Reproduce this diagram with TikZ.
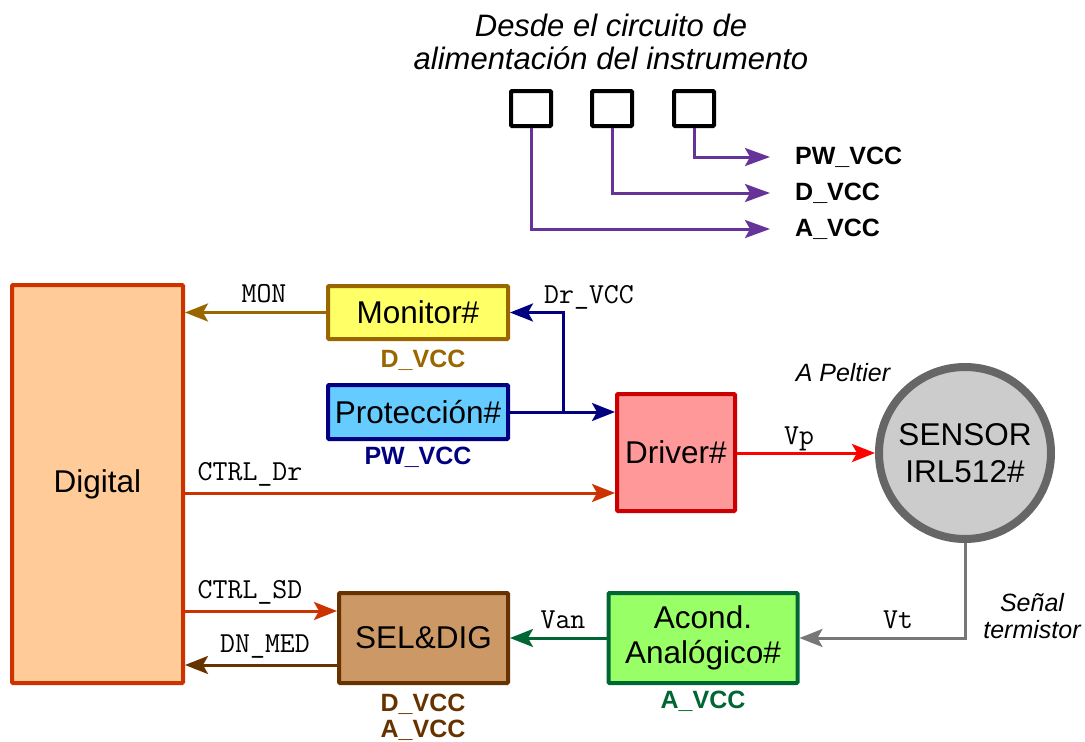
\documentclass[tikz,border=0pt]{standalone}
\usepackage{fontspec}
\setmainfont{Liberation Sans}
\usetikzlibrary{arrows.meta,calc}
\definecolor{digF}{HTML}{FFCC99}
\definecolor{digB}{HTML}{CC3300}
\definecolor{monF}{HTML}{FFFF66}
\definecolor{monB}{HTML}{996600}
\definecolor{proF}{HTML}{66CCFF}
\definecolor{proB}{HTML}{000080}
\definecolor{drvF}{HTML}{FF9999}
\definecolor{drvB}{HTML}{CC0000}
\definecolor{senF}{HTML}{CCCCCC}
\definecolor{senB}{HTML}{666666}
\definecolor{acoF}{HTML}{99FF66}
\definecolor{acoB}{HTML}{006633}
\definecolor{selF}{HTML}{CC9966}
\definecolor{selB}{HTML}{663300}
\definecolor{purp}{HTML}{663399}
\definecolor{vtgray}{HTML}{777777}
\begin{document}
\begin{tikzpicture}[x=1pt,y=-1pt,
  blk/.style={draw, line width=4pt, inner sep=0pt, align=center, rounded corners=1pt,
    font=\fontsize{31.5}{35}\selectfont},
  sq/.style={draw, line width=4pt, inner sep=0pt, minimum width=40pt, minimum height=35pt, rounded corners=1pt},
  lbl/.style={font=\ttfamily\fontsize{29}{29}\selectfont, inner sep=0pt},
  pw/.style={font=\bfseries\fontsize{25}{26}\selectfont, inner sep=0pt, align=center},
  itl/.style={font=\itshape\fontsize{25}{27}\selectfont, inner sep=0pt, align=center},
  con/.style={line width=3pt, -{Stealth[length=23pt,width=18pt,inset=5pt]}},
  pcon/.style={line width=3pt, draw=purp, -{Stealth[length=25pt,width=18pt,inset=5pt]}}
]
\useasboundingbox (0,0) rectangle (1085,742);

% title and supply boxes
\node[font=\itshape\fontsize{31}{33}\selectfont, align=center, inner sep=0pt] (title) at (611,42)
  {Desde el circuito de\\alimentación del instrumento};
\node[sq] (b1) at (531,108.5) {};
\node[sq] (b2) at (612,108.5) {};
\node[sq] (b3) at (694,108.5) {};
\coordinate (t3) at (770,157);
\coordinate (t2) at (770,193);
\coordinate (t1) at (770,229);
\node[pw, anchor=west] (lpw) at (795,157) {PW\_VCC};
\node[pw, anchor=west] (ld) at (795,193) {D\_VCC};
\node[pw, anchor=west] (la) at (795,229) {A\_VCC};
\draw[pcon] (b3.south) |- (t3);
\draw[pcon] (b2.south) |- (t2);
\draw[pcon] (b1.south) |- (t1);

% blocks
\node[blk, fill=digF, draw=digB, minimum width=171pt, minimum height=398pt] (dig) at (97.5,484) {Digital};
\node[blk, fill=monF, draw=monB, minimum width=180pt, minimum height=53pt] (mon) at (418,312.5) {Monitor\#};
\node[blk, fill=proF, draw=proB, minimum width=180pt, minimum height=54pt] (pro) at (418,412) {Protección\#};
\node[blk, fill=drvF, draw=drvB, minimum width=118pt, minimum height=117pt] (drv) at (676,452.5) {Driver\#};
\node[blk, circle, fill=senF, draw=senB, line width=8pt, minimum size=172pt,
  font=\fontsize{31.5}{37}\selectfont] (sen) at (965,453) {SENSOR\\IRL512\#};
\node[blk, fill=acoF, draw=acoB, minimum width=189pt, minimum height=90pt] (aco) at (703,638) {Acond.\\Analógico\#};
\node[blk, fill=selF, draw=selB, minimum width=169pt, minimum height=90pt] (sel) at (423.5,638) {SEL\&DIG};

% supply labels under blocks
\node[pw, text=monB] (monv) at (423,360) {D\_VCC};
\node[pw, text=proB] (prov) at (418,457) {PW\_VCC};
\node[pw, text=acoB] (acov) at (703,701) {A\_VCC};
\node[pw, text=selB] (selv) at (423,717) {D\_VCC\\A\_VCC};

% connectors
\draw[con, draw=monB] (mon.west) -- (mon.west -| dig.east);
\node[lbl] (lmon) at (264,294) {MON};

\coordinate (jn) at (563,412);
\draw[con, draw=proB] (pro.east |- jn) -- (jn -| drv.west);
\draw[con, draw=proB] (jn) |- (mon.east);
\node[lbl] (ldr) at (589,297) {Dr\_VCC};

\coordinate (cdr) at (400,493);
\draw[con, draw=digB] (dig.east |- cdr) -- (drv.west |- cdr);
\node[lbl] (lcdr) at (250,474) {CTRL\_Dr};

\draw[con, draw=red] (drv.east |- sen.west) -- (sen.west);
\node[lbl] (lvp) at (799,439) {Vp};
\node[itl] (lpel) at (843,373) {A Peltier};

\draw[con, draw=vtgray] (sen.south) |- (aco.east);
\node[lbl] (lvt) at (898,620) {Vt};
\node[itl] (lst) at (1032,616) {Señal\\termistor};

\draw[con, draw=acoB] (aco.west) -- (sel.east);
\node[lbl] (lvan) at (563,620) {Van};

\coordinate (csd) at (260,611);
\draw[con, draw=digB] (dig.east |- csd) -- (sel.west |- csd);
\node[lbl] (lcsd) at (250,592) {CTRL\_SD};

\coordinate (cdn) at (260,665);
\draw[con, draw=selB] (sel.west |- cdn) -- (dig.east |- cdn);
\node[lbl] (ldn) at (265,647) {DN\_MED};
\end{tikzpicture}
\end{document}
